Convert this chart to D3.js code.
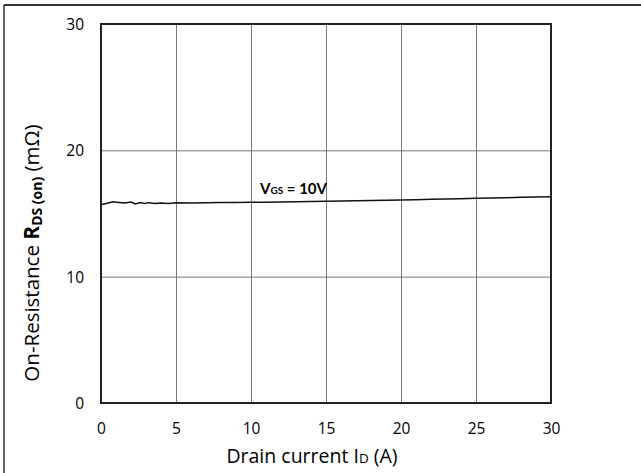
<!DOCTYPE html>
<html><head><meta charset="utf-8">
<script src="https://cdn.jsdelivr.net/npm/d3@7"></script>
<style>body{margin:0;background:#fff}svg{display:block;font-family:"Open Sans",Lato,sans-serif}</style>
</head><body>
<script>
const current    = [0, 0.3, 0.8, 1.2, 1.6, 2.0, 2.3, 2.6, 2.9, 3.2, 3.6, 4.0, 4.5, 5, 6, 7, 8, 9, 10, 11, 12, 13, 14, 15, 16, 17, 18, 19, 20, 21, 22, 23, 24, 25, 26, 27, 28, 29, 30];
const resistance = [15.72, 15.78, 15.92, 15.88, 15.84, 15.90, 15.76, 15.86, 15.80, 15.86, 15.80, 15.84, 15.80, 15.85, 15.83, 15.86, 15.87, 15.88, 15.90, 15.90, 15.92, 15.93, 15.95, 15.97, 15.98, 16.00, 16.02, 16.04, 16.06, 16.09, 16.12, 16.14, 16.17, 16.20, 16.23, 16.25, 16.28, 16.31, 16.33];
const xTicks = [0, 5, 10, 15, 20, 25, 30];
const yTicks = [0, 10, 20, 30];

const W = 641, H = 473;
const P = {left: 101, right: 551, top: 24, bottom: 403};

const x = d3.scaleLinear().domain([0, 30]).range([P.left, P.right]);
const y = d3.scaleLinear().domain([0, 30]).range([P.bottom, P.top]);

const svg = d3.select("body").append("svg").attr("width", W).attr("height", H);

// outer frame (top and left edges)
svg.append("line").attr("x1", 4).attr("x2", W).attr("y1", 5).attr("y2", 5)
  .attr("stroke", "#333").attr("stroke-width", 2);
svg.append("line").attr("x1", 4).attr("x2", 4).attr("y1", 5).attr("y2", H)
  .attr("stroke", "#333").attr("stroke-width", 1.5);

// grid via axes
const gx = svg.append("g").attr("transform", `translate(0,${P.bottom})`)
  .call(d3.axisBottom(x).tickValues(xTicks).tickSize(-(P.bottom - P.top)).tickFormat(""));
gx.select(".domain").remove();
gx.selectAll("line").attr("stroke", "#777").attr("stroke-width", 1);

const gy = svg.append("g").attr("transform", `translate(${P.left},0)`)
  .call(d3.axisLeft(y).tickValues(yTicks).tickSize(-(P.right - P.left)).tickFormat(""));
gy.select(".domain").remove();
gy.selectAll("line").attr("stroke", "#777").attr("stroke-width", 1);

// tick labels
const lx = svg.append("g").attr("transform", `translate(0,${P.bottom + 31})`)
  .call(d3.axisBottom(x).tickValues(xTicks).tickSize(0).tickPadding(0).tickFormat(d3.format("d")));
lx.select(".domain").remove();
lx.selectAll("text").attr("font-size", 15.5).attr("font-family", "Open Sans").attr("fill", "#000").attr("dy", 0);

const ly = svg.append("g").attr("transform", `translate(${P.left - 17},0)`)
  .call(d3.axisLeft(y).tickValues(yTicks).tickSize(0).tickPadding(0).tickFormat(d3.format("d")));
ly.select(".domain").remove();
ly.selectAll("text").attr("font-size", 15.5).attr("font-family", "Open Sans").attr("fill", "#000").attr("dy", "0.36em");

// plot frame
svg.append("rect").attr("x", P.left).attr("y", P.top)
  .attr("width", P.right - P.left).attr("height", P.bottom - P.top)
  .attr("fill", "none").attr("stroke", "#222").attr("stroke-width", 2);

// curve
const pts = current.map((c, i) => [c, resistance[i]]);
svg.append("path").datum(pts)
  .attr("d", d3.line().x(d => x(d[0])).y(d => y(d[1])))
  .attr("fill", "none").attr("stroke", "#111").attr("stroke-width", 1.5);

// annotation
const ann = svg.append("text").attr("x", 260).attr("y", 194)
  .attr("font-weight", "bold").attr("font-size", 15).attr("font-family", "Lato").attr("fill", "#000");
ann.append("tspan").text("V");
ann.append("tspan").attr("font-size", 10).text("GS");
ann.append("tspan").text(" = 10V");

// x title
const xt = svg.append("text").attr("x", 312).attr("y", 463)
  .attr("text-anchor", "middle").attr("font-size", 19.5).attr("fill", "#000");
xt.append("tspan").text("Drain current I");
xt.append("tspan").attr("font-size", 13.5).text("D");
xt.append("tspan").text(" (A)");

// y title
const yt = svg.append("text").attr("transform", `translate(39,253) rotate(-90)`)
  .attr("text-anchor", "middle").attr("font-size", 20.5).attr("fill", "#000");
yt.append("tspan").text("On-Resistance ");
yt.append("tspan").attr("font-weight", "bold").attr("font-size", 21).text("R");
yt.append("tspan").attr("font-weight", "bold").attr("font-size", 14).attr("dy", 3).text("DS (on)");
yt.append("tspan").attr("dy", -3).text(" (mΩ)");
</script>
</body></html>
